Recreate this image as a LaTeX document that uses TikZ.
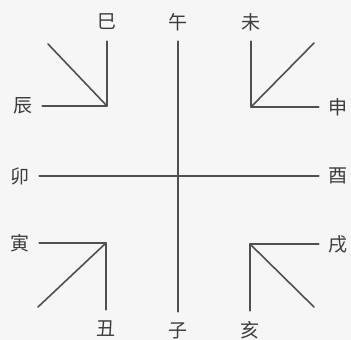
\documentclass[tikz,border=0pt]{standalone}
\usepackage{fontspec}
\newfontfamily\cjkfont{Noto Sans CJK SC}
\usetikzlibrary{positioning}
\definecolor{branchgray}{RGB}{80,80,80}
\definecolor{labelgray}{RGB}{60,60,60}
\definecolor{papergray}{RGB}{246,246,246}

\begin{document}
\begin{tikzpicture}[x=1pt,y=-1pt,line cap=round,line join=round,
  branch/.style={font=\cjkfont\fontsize{19}{19}\selectfont,text=labelgray,inner sep=0pt,minimum size=38pt},
  stroke/.style={branchgray,line width=1.6pt}]
\fill[papergray] (0,0) rectangle (351,340);
\useasboundingbox (0,0) rectangle (351,340);
% the cross
\node[branch] (wu) at (178,22) {午};
\node[branch] (zi) at (178,331) {子};
\node[branch] (mao) at (20,176) {卯};
\node[branch] (you) at (338,176) {酉};
\draw[stroke] (wu)--(zi);
\draw[stroke] (mao)--(you);
% corner labels
\node[branch] (si) at (107,22) {巳};
\node[branch] (chen) at (23,106) {辰};
\node[branch] (wei) at (251,22) {未};
\node[branch] (shen) at (338,107) {申};
\node[branch] (yin) at (20,243) {寅};
\node[branch] (chou) at (106,329) {丑};
\node[branch] (xu) at (338,244) {戌};
\node[branch] (hai) at (250,330) {亥};
% corners and free ends of the diagonals
\coordinate (cnw) at (107,106);
\coordinate (cne) at (251,107);
\coordinate (csw) at (106,243);
\coordinate (cse) at (250,244);
\coordinate (dnw) at (48,44);
\coordinate (dne) at (314,43);
\coordinate (dsw) at (38,307);
\coordinate (dse) at (314,307);
\draw[stroke] (si)--(cnw)--(chen);
\draw[stroke] (wei)--(cne)--(shen);
\draw[stroke] (yin)--(csw)--(chou);
\draw[stroke] (xu)--(cse)--(hai);
\foreach \c in {nw,ne,sw,se}{\draw[stroke] (d\c)--(c\c);}
\end{tikzpicture}
\end{document}
